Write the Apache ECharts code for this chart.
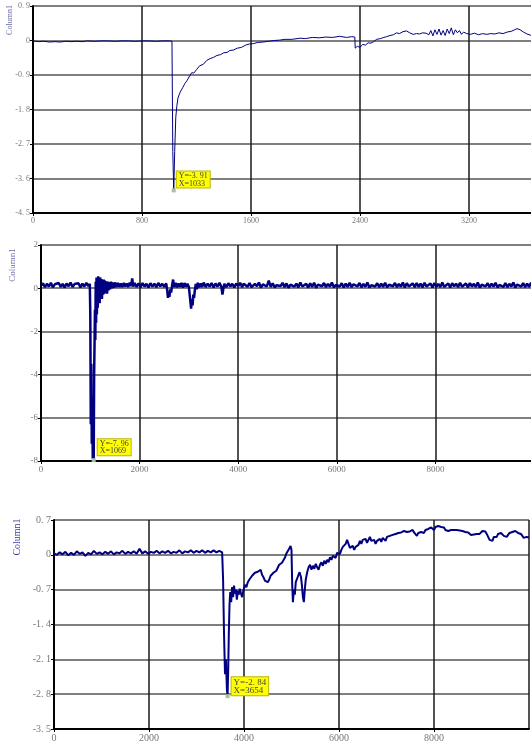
<!DOCTYPE html>
<html>
<head>
<meta charset="utf-8">
<script src="https://cdn.jsdelivr.net/npm/echarts@6/dist/echarts.min.js"></script>
<style>
  html, body { margin: 0; padding: 0; background: #fff; }
  #chart { width: 531px; height: 741px; }
</style>
</head>
<body>
<div id="chart"></div>
<script>
  // tick values of each panel
  var topXTicks = [0, 800, 1600, 2400, 3200, 4000];
  var topYTicks = [-4.5, -3.6, -2.7, -1.8, -0.9, 0, 0.9];
  var midXTicks = [0, 2000, 4000, 6000, 8000, 10000];
  var midYTicks = [-8, -6, -4, -2, 0, 2];
  var lowXTicks = [0, 2000, 4000, 6000, 8000, 10000];
  var lowYTicks = [-3.5, -2.8, -2.1, -1.4, -0.7, 0, 0.7];

  var seriesName = "Column1";

  // minimum markers [x, y]
  var topMin = [1033, -3.91];
  var midMin = [1069, -7.96];
  var lowMin = [3654, -2.84];

  // [x, y] samples
  var topTrace = [
    [0,-0.01],[40,-0.03],[80,-0.02],[120,-0.04],[160,-0.03],[200,-0.04],[240,-0.02],[280,-0.03],
    [320,-0.02],[360,-0.03],[400,-0.01],[450,-0.02],[500,-0.01],[550,-0.01],[600,-0.02],[650,-0.01],
    [700,-0.01],[750,-0.02],[800,-0.01],[850,-0.01],[900,-0.02],[950,-0.01],[1000,-0.01],[1020,-0.02],
    [1026,-2.9],[1033,-3.91],[1040,-2.9],[1048,-2.0],[1056,-1.7],[1064,-1.5],[1072,-1.42],[1080,-1.35],
    [1090,-1.3],[1100,-1.22],[1115,-1.12],[1130,-1.05],[1150,-0.92],[1165,-0.84],[1180,-0.85],[1200,-0.76],
    [1223,-0.66],[1250,-0.62],[1275,-0.52],[1300,-0.47],[1325,-0.44],[1350,-0.39],[1375,-0.37],[1400,-0.32],
    [1425,-0.31],[1445,-0.26],[1470,-0.25],[1500,-0.2],[1530,-0.18],[1560,-0.12],[1590,-0.09],[1620,-0.08],
    [1650,-0.05],[1690,-0.04],[1730,-0.02],[1770,0.0],[1810,0.01],[1850,0.03],[1900,0.03],[1960,0.06],
    [2000,0.05],[2050,0.08],[2100,0.07],[2150,0.09],[2200,0.08],[2250,0.11],[2300,0.08],[2340,0.1],
    [2362,0.09],[2365,-0.2],[2380,-0.15],[2400,-0.18],[2420,-0.1],[2440,-0.12],[2460,-0.06],[2480,-0.07],
    [2500,-0.03],[2522,0.03],[2550,0.05],[2575,0.08],[2595,0.1],[2620,0.13],[2645,0.15],[2668,0.2],
    [2690,0.18],[2715,0.23],[2742,0.25],[2765,0.2],[2790,0.16],[2815,0.18],[2837,0.17],[2860,0.2],
    [2885,0.19],[2905,0.15],[2920,0.26],[2935,0.12],[2950,0.28],[2965,0.16],[2980,0.3],[2995,0.14],
    [3010,0.26],[3025,0.13],[3040,0.3],[3055,0.18],[3070,0.33],[3085,0.15],[3100,0.28],[3115,0.2],
    [3130,0.26],[3145,0.16],[3160,0.22],[3183,0.18],[3210,0.16],[3240,0.19],[3270,0.15],[3300,0.18],
    [3330,0.16],[3360,0.18],[3390,0.17],[3420,0.2],[3450,0.18],[3480,0.22],[3510,0.24],[3535,0.28],
    [3552,0.31],[3575,0.28],[3600,0.22],[3625,0.17],[3650,0.14],[3680,0.13],[3710,0.15],[3740,0.18]
  ];

  var midTrace = [
    [0,0.12],[40,0.22],[80,0.05],[120,0.2],[160,0.08],[200,0.25],[240,0.04],[280,0.18],[320,0.1],
    [360,0.24],[400,0.06],[440,0.2],[480,0.03],[520,0.22],[560,0.09],[600,0.26],[640,0.05],[680,0.19],
    [720,0.11],[760,0.23],[800,0.04],[840,0.21],[880,0.08],[920,0.25],[960,0.1],[990,0.2],
    [1000,-1.2],[1010,-6.3],[1020,-3.5],[1030,-7.2],[1040,-5.0],[1050,-7.9],[1060,-6.5],[1069,-7.96],
    [1078,-4.0],[1086,-2.6],[1094,-1.0],[1102,-2.4],[1110,0.3],[1118,-1.6],[1126,0.5],[1134,-1.2],
    [1142,0.45],[1150,-0.9],[1160,0.55],[1170,-0.6],[1180,0.4],[1190,-0.7],[1200,0.5],[1212,-0.45],
    [1224,0.42],[1236,-0.5],[1248,0.35],[1260,-0.3],[1272,0.4],[1284,-0.25],[1296,0.35],[1310,-0.2],
    [1325,0.32],[1340,-0.25],[1355,0.3],[1370,-0.1],[1385,0.28],[1400,-0.05],[1420,0.3],[1440,0.0],
    [1460,0.26],[1480,0.02],[1500,0.27],[1530,0.05],[1560,0.25],[1590,0.06],[1620,0.22],[1650,0.05],
    [1680,0.24],[1710,0.08],[1740,0.22],[1770,0.06],[1800,0.26],[1830,0.1],[1850,0.45],[1870,0.08],
    [1900,0.24],[1940,0.06],[1980,0.22],[2020,0.05],[2060,0.24],[2100,0.08],[2140,0.2],[2180,0.04],
    [2220,0.23],[2260,0.07],[2300,0.21],[2340,0.05],[2380,0.24],[2420,0.09],[2460,0.2],[2500,0.06],
    [2540,0.22],[2560,-0.1],[2575,-0.45],[2590,-0.2],[2605,-0.4],[2620,-0.05],[2640,-0.2],[2660,0.15],
    [2680,0.4],[2700,0.05],[2730,0.25],[2760,0.04],[2790,0.22],[2820,0.06],[2850,0.25],[2880,0.03],
    [2910,0.24],[2940,0.07],[2970,0.2],[3000,0.05],[3030,0.1],[3045,-0.95],[3060,-0.5],[3075,-0.8],
    [3090,-0.3],[3105,-0.45],[3120,-0.1],[3140,0.2],[3160,-0.05],[3180,0.25],[3210,0.04],[3240,0.22],
    [3270,0.06],[3300,0.26],[3340,0.05],[3380,0.21],[3420,0.07],[3460,0.24],[3500,0.03],[3540,0.22],
    [3580,0.08],[3620,0.25],[3660,0.05],[3680,-0.3],[3700,0.0],[3720,0.2],[3760,0.05],[3800,0.23],
    [3840,0.08],[3880,0.2],[3920,0.04],[3960,0.22],[4000,0.1],[4040,0.25],[4080,0.04],[4110,0.21],
    [4150,0.17],[4190,0.07],[4230,0.24],[4270,0.05],[4300,0.12],[4340,0.2],[4380,0.09],[4420,0.26],
    [4460,0.03],[4500,0.18],[4540,0.22],[4580,0.08],[4620,0.35],[4660,0.06],[4700,0.23],[4740,0.04],
    [4780,0.14],[4820,0.2],[4860,0.1],[4900,0.25],[4940,0.05],[4980,0.22],[5020,0.02],[5060,0.16],
    [5100,0.24],[5140,0.07],[5180,0.21],[5220,0.04],[5260,0.26],[5300,0.08],[5340,0.13],[5380,0.2],
    [5420,0.03],[5460,0.23],[5500,0.06],[5540,0.25],[5580,0.02],[5620,0.17],[5660,0.22],[5700,0.09],
    [5740,0.24],[5780,0.05],[5820,0.2],[5860,0.07],[5900,0.26],[5940,0.04],[5980,0.15],[6020,0.22],
    [6060,0.08],[6100,0.23],[6140,0.03],[6180,0.21],[6220,0.06],[6260,0.25],[6300,0.05],[6340,0.18],
    [6380,0.22],[6420,0.09],[6460,0.24],[6500,0.04],[6540,0.2],[6580,0.07],[6620,0.26],[6660,0.03],
    [6700,0.14],[6740,0.22],[6780,0.08],[6820,0.23],[6860,0.05],[6900,0.21],[6940,0.06],[6980,0.25],
    [7020,0.04],[7060,0.16],[7100,0.22],[7140,0.09],[7180,0.24],[7220,0.05],[7260,0.2],[7300,0.07],
    [7340,0.26],[7380,0.03],[7420,0.23],[7460,0.08],[7500,0.13],[7540,0.22],[7580,0.05],[7620,0.24],
    [7660,0.06],[7700,0.21],[7740,0.04],[7780,0.25],[7820,0.08],[7860,0.17],[7900,0.22],[7940,0.03],
    [7980,0.24],[8020,0.07],[8060,0.2],[8100,0.05],[8140,0.26],[8180,0.06],[8220,0.15],[8260,0.22],
    [8300,0.04],[8340,0.23],[8380,0.09],[8420,0.21],[8460,0.05],[8500,0.25],[8540,0.07],[8580,0.14],
    [8620,0.22],[8660,0.04],[8700,0.24],[8740,0.08],[8780,0.2],[8820,0.06],[8860,0.26],[8900,0.03],
    [8940,0.16],[8980,0.22],[9020,0.08],[9060,0.23],[9100,0.05],[9140,0.21],[9180,0.07],[9220,0.25],
    [9260,0.04],[9300,0.15],[9340,0.22],[9380,0.06],[9420,0.24],[9460,0.05],[9500,0.2],[9540,0.08],
    [9580,0.26],[9620,0.03],[9660,0.17],[9700,0.22],[9740,0.07],[9780,0.24],[9820,0.05],[9860,0.21],
    [9900,0.06],[9940,0.25],[9980,0.08],[10000,0.15]
  ];

  var lowTrace = [
    [0,0.03],[60,0.0],[120,0.05],[180,0.01],[240,0.06],[300,-0.01],[360,0.04],[420,0.0],[480,0.07],
    [540,0.02],[600,0.05],[660,-0.02],[720,0.04],[780,0.01],[840,0.08],[900,0.02],[960,0.05],[1020,0.01],
    [1080,0.06],[1140,0.02],[1200,0.07],[1260,0.01],[1320,0.05],[1380,0.03],[1440,0.08],[1500,0.02],
    [1560,0.06],[1620,0.03],[1680,0.07],[1740,0.02],[1800,0.12],[1860,0.03],[1920,0.07],[1980,0.02],
    [2040,0.06],[2100,0.04],[2160,0.08],[2220,0.03],[2280,0.07],[2340,0.04],[2400,0.08],[2460,0.03],
    [2520,0.06],[2580,0.04],[2640,0.09],[2700,0.03],[2760,0.07],[2820,0.05],[2880,0.09],[2940,0.04],
    [3000,0.08],[3060,0.05],[3120,0.09],[3180,0.04],[3240,0.08],[3300,0.05],[3360,0.09],[3420,0.05],
    [3480,0.08],[3540,0.05],[3560,-0.5],[3580,-1.6],[3600,-2.4],[3620,-2.1],[3640,-2.7],[3654,-2.84],
    [3668,-2.3],[3680,-1.6],[3695,-1.0],[3710,-0.75],[3730,-0.95],[3750,-0.65],[3770,-0.85],[3790,-0.62],
    [3810,-0.78],[3830,-0.7],[3850,-0.9],[3870,-0.72],[3890,-0.8],[3910,-0.68],[3930,-0.75],[3960,-0.85],
    [3990,-0.7],[4020,-0.6],[4050,-0.65],[4080,-0.55],[4110,-0.5],[4140,-0.48],[4170,-0.42],[4200,-0.38],
    [4230,-0.36],[4260,-0.4],[4290,-0.34],[4320,-0.38],[4350,-0.3],[4380,-0.4],[4410,-0.45],[4440,-0.52],
    [4470,-0.48],[4500,-0.55],[4530,-0.5],[4560,-0.42],[4590,-0.44],[4620,-0.36],[4650,-0.4],[4680,-0.32],
    [4710,-0.28],[4740,-0.2],[4770,-0.24],[4800,-0.16],[4830,-0.12],[4860,-0.06],[4890,0.02],[4920,0.06],
    [4950,0.12],[4980,0.18],[5000,0.1],[5015,-0.6],[5030,-0.95],[5050,-0.7],[5070,-0.8],[5090,-0.55],
    [5110,-0.5],[5140,-0.42],[5170,-0.35],[5200,-0.45],[5220,-0.62],[5240,-0.85],[5260,-0.95],[5280,-0.7],
    [5300,-0.5],[5330,-0.35],[5360,-0.25],[5390,-0.2],[5420,-0.3],[5450,-0.22],[5480,-0.28],[5510,-0.18],
    [5540,-0.25],[5570,-0.3],[5600,-0.2],[5630,-0.15],[5660,-0.22],[5690,-0.12],[5720,-0.18],[5750,-0.1],
    [5780,-0.15],[5810,-0.05],[5840,-0.1],[5870,-0.02],[5900,0.0],[5930,-0.06],[5960,0.04],[5990,0.08],
    [6020,0.02],[6050,0.1],[6080,0.16],[6110,0.12],[6140,0.22],[6170,0.3],[6200,0.26],[6230,0.14],
    [6260,0.12],[6290,0.18],[6320,0.1],[6350,0.16],[6380,0.12],[6410,0.2],[6440,0.28],[6470,0.22],
    [6500,0.3],[6530,0.26],[6560,0.32],[6590,0.24],[6620,0.3],[6650,0.36],[6680,0.28],[6710,0.24],
    [6740,0.3],[6770,0.22],[6800,0.28],[6830,0.24],[6860,0.32],[6890,0.26],[6920,0.34],[6950,0.3],
    [6980,0.28],[7010,0.36],[7040,0.32],[7070,0.38],[7100,0.34],[7130,0.4],[7160,0.36],[7190,0.42],
    [7220,0.38],[7250,0.44],[7280,0.4],[7310,0.45],[7340,0.43],[7370,0.48],[7400,0.44],[7430,0.46],
    [7460,0.42],[7490,0.47],[7520,0.44],[7550,0.5],[7580,0.45],[7610,0.42],[7640,0.38],[7670,0.44],
    [7700,0.4],[7730,0.46],[7760,0.48],[7790,0.44],[7820,0.5],[7850,0.47],[7880,0.52],[7910,0.5],
    [7940,0.55],[7970,0.52],[8000,0.5],[8030,0.56],[8060,0.52],[8090,0.58],[8120,0.54],[8150,0.56],
    [8180,0.52],[8210,0.55],[8240,0.5],[8270,0.53],[8300,0.48],[8330,0.52],[8360,0.5],[8390,0.54],
    [8420,0.5],[8450,0.47],[8480,0.5],[8510,0.46],[8540,0.49],[8570,0.45],[8600,0.48],[8630,0.44],
    [8660,0.46],[8690,0.42],[8720,0.45],[8750,0.43],[8780,0.4],[8810,0.44],[8840,0.41],[8870,0.45],
    [8900,0.42],[8930,0.46],[8960,0.42],[8990,0.45],[9020,0.48],[9050,0.44],[9080,0.47],[9110,0.42],
    [9140,0.38],[9170,0.3],[9200,0.34],[9230,0.28],[9260,0.36],[9290,0.4],[9320,0.36],[9350,0.42],
    [9380,0.4],[9410,0.44],[9440,0.4],[9470,0.38],[9500,0.42],[9530,0.36],[9560,0.4],[9590,0.44],
    [9620,0.42],[9650,0.46],[9680,0.44],[9710,0.48],[9740,0.46],[9770,0.44],[9800,0.48],[9830,0.42],
    [9860,0.38],[9890,0.34],[9920,0.38],[9950,0.36],[9980,0.32],[10000,0.35]
  ];

  var serif = "'Liberation Serif', 'DejaVu Serif', serif";
  var lineColor = "#000080";

  function decimalLabel(v) {
    if (Math.abs(v) < 1e-9) return "0";
    return (Math.round(v * 100) / 100).toFixed(1).replace(".", ". ");
  }

  function xAxisFor(idx, ticks, size) {
    return {
      gridIndex: idx,
      type: "value",
      min: ticks[0],
      max: ticks[ticks.length - 1],
      interval: ticks[1] - ticks[0],
      axisLine: {onZero: false, lineStyle: {color: "#000", width: 2}},
      axisTick: {show: true, length: 3, lineStyle: {color: "#000"}},
      axisLabel: {color: "#777", fontSize: size, fontFamily: serif, margin: 4, showMaxLabel: false,
        formatter: function (v) { return String(v); }},
      splitLine: {show: true, lineStyle: {color: "#1a1a1a", width: 1.5}}
    };
  }

  function yAxisFor(idx, ticks, size, fmt) {
    return {
      gridIndex: idx,
      type: "value",
      min: ticks[0],
      max: ticks[ticks.length - 1],
      interval: Math.round((ticks[1] - ticks[0]) * 100) / 100,
      axisLine: {onZero: false, lineStyle: {color: "#000", width: 2}},
      axisTick: {show: true, length: 3, lineStyle: {color: "#000"}},
      axisLabel: {color: "#777", fontSize: size, fontFamily: serif, margin: 3, formatter: fmt},
      splitLine: {show: true, lineStyle: {color: "#555", width: 1.5}}
    };
  }

  function minMark(point, text, offset, size) {
    return {
      symbol: "rect",
      symbolSize: 4,
      itemStyle: {color: "#a8c0a0"},
      label: {
        show: true,
        position: offset,
        formatter: text,
        backgroundColor: "#ffff00",
        borderColor: "#b8b800",
        borderWidth: 1,
        padding: [1, 2, 0, 2],
        color: "#444",
        fontSize: size,
        lineHeight: size - 0.5,
        fontFamily: serif
      },
      data: [{coord: point}]
    };
  }

  var chart = echarts.init(document.getElementById("chart"), null, {renderer: "canvas"});
  chart.setOption({
    animation: false,
    backgroundColor: "#fff",
    grid: [
      {left: 33, top: 6, width: 545, height: 207, outerBoundsMode: "none", containLabel: false},
      {left: 41, top: 245, width: 493, height: 216, outerBoundsMode: "none", containLabel: false},
      {left: 54, top: 520, width: 475, height: 209, outerBoundsMode: "none", containLabel: false}
    ],
    xAxis: [
      xAxisFor(0, topXTicks, 8),
      xAxisFor(1, midXTicks, 9),
      xAxisFor(2, lowXTicks, 10)
    ],
    yAxis: [
      yAxisFor(0, topYTicks, 8, decimalLabel),
      yAxisFor(1, midYTicks, 9, function (v) { return String(v); }),
      yAxisFor(2, lowYTicks, 10, decimalLabel)
    ],
    graphic: [
      {type: "text", x: 10, y: 20, rotation: Math.PI / 2,
        style: {text: seriesName, fill: "#6a6aa8", font: "8px " + serif, textAlign: "center", textVerticalAlign: "middle", align: "center", verticalAlign: "middle"}},
      {type: "text", x: 13, y: 265, rotation: Math.PI / 2,
        style: {text: seriesName, fill: "#6a6aa8", font: "9px " + serif, textAlign: "center", textVerticalAlign: "middle", align: "center", verticalAlign: "middle"}},
      {type: "text", x: 17, y: 537, rotation: Math.PI / 2,
        style: {text: seriesName, fill: "#3a3aa0", font: "10px " + serif, textAlign: "center", textVerticalAlign: "middle", align: "center", verticalAlign: "middle"}}
    ],
    series: [
      {
        name: seriesName, type: "line", xAxisIndex: 0, yAxisIndex: 0,
        data: topTrace, showSymbol: false, clip: true,
        lineStyle: {color: lineColor, width: 1},
        markPoint: minMark(topMin, "Y=-3. 91\nX=1033", [5, -17], 8)
      },
      {
        name: seriesName, type: "line", xAxisIndex: 1, yAxisIndex: 1,
        data: midTrace, showSymbol: false, clip: true,
        lineStyle: {color: lineColor, width: 2.5},
        markPoint: minMark(midMin, "Y=-7. 96\nX=1069", [6, -19], 8)
      },
      {
        name: seriesName, type: "line", xAxisIndex: 2, yAxisIndex: 2,
        data: lowTrace, showSymbol: false, clip: true,
        lineStyle: {color: lineColor, width: 2},
        markPoint: minMark(lowMin, "Y=-2. 84\nX=3654", [6, -17], 9)
      }
    ]
  });
</script>
</body>
</html>
